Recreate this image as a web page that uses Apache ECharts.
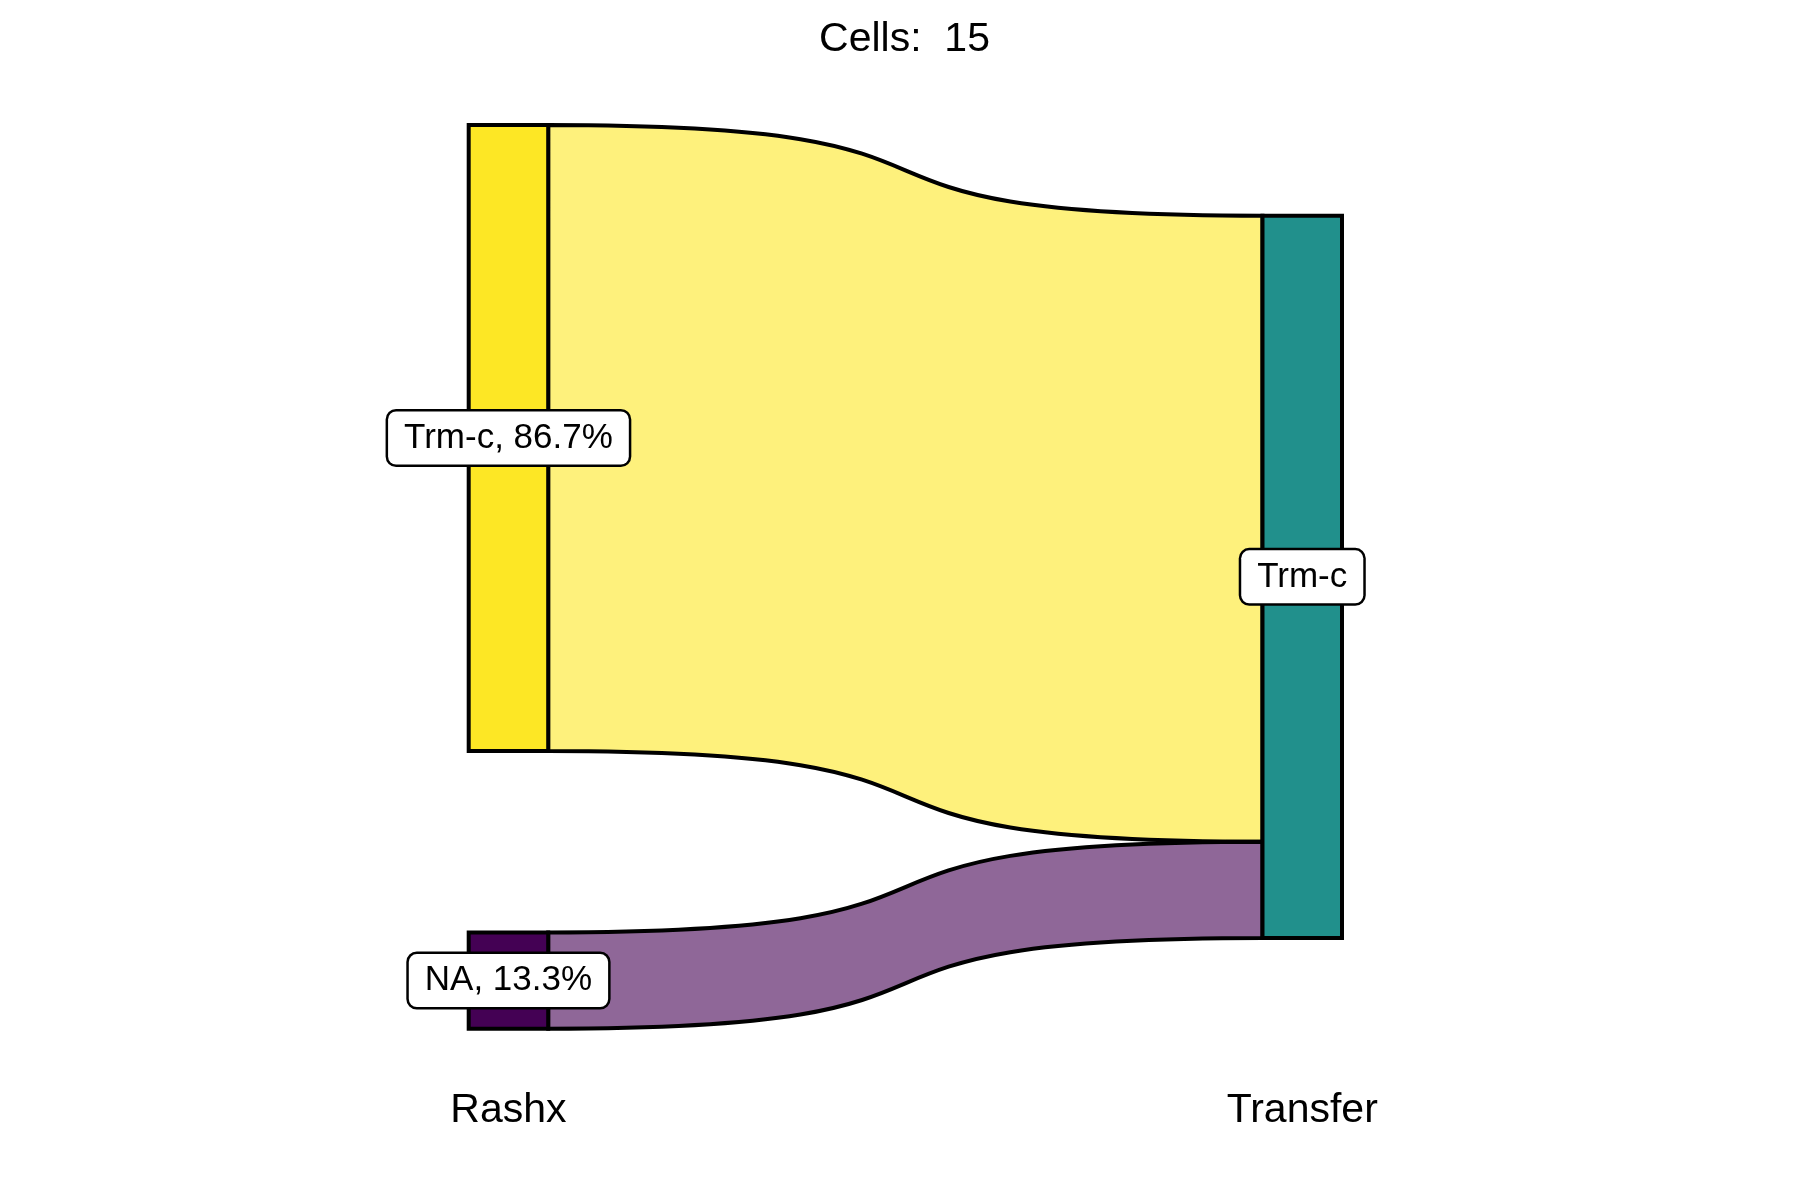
<!DOCTYPE html>
<html>
<head>
<meta charset="utf-8">
<script src="https://cdn.jsdelivr.net/npm/echarts@6/dist/echarts.min.js"></script>
<style>html,body{margin:0;padding:0;background:#fff}#c{width:1800px;height:1200px}</style>
</head>
<body>
<div id="c"></div>
<script>
// ---- data ----
const axisNames = ['Rashx', 'Transfer'];
const sourceCategories = ['Trm-c', 'NA'];
const targetCategories = ['Trm-c'];
const flowSource = ['Trm-c', 'NA'];
const flowTarget = ['Trm-c', 'Trm-c'];
const flowCounts = [13, 2];
const sourceColors = ['#FDE725', '#440154'];
const targetColors = ['#21908C'];

// ---- layout / style ----
const FONT = '"Liberation Sans", Arial, sans-serif';
const L = 468.7, T = 125, W = 873.3, H = 903.7;
const NODE_W = 79.5, GAP = 181.4;
const FLOW_ALPHA = 0.6;

function rgba(hex, a) {
  const n = parseInt(hex.slice(1), 16);
  return `rgba(${(n >> 16) & 255},${(n >> 8) & 255},${n & 255},${a})`;
}

const total = flowCounts.reduce((a, b) => a + b, 0);
const srcTotals = sourceCategories.map(c =>
  flowCounts.reduce((s, v, i) => s + (flowSource[i] === c ? v : 0), 0));

const ky = (H - GAP * (sourceCategories.length - 1)) / total;
const targetOffset = (H - total * ky) / 2 / H;

const nodes = [];
sourceCategories.forEach((c, i) => {
  nodes.push({
    name: axisNames[0] + '|' + c,
    depth: 0,
    display: c + ', ' + (srcTotals[i] / total * 100).toFixed(1) + '%',
    itemStyle: { color: sourceColors[i] }
  });
});
targetCategories.forEach((c, i) => {
  nodes.push({
    name: axisNames[1] + '|' + c,
    depth: 1,
    display: c,
    localY: targetOffset,
    itemStyle: { color: targetColors[i] }
  });
});

const links = flowCounts.map((v, i) => ({
  source: axisNames[0] + '|' + flowSource[i],
  target: axisNames[1] + '|' + flowTarget[i],
  value: v,
  lineStyle: { color: rgba(sourceColors[sourceCategories.indexOf(flowSource[i])], FLOW_ALPHA) }
}));

const chart = echarts.init(document.getElementById('c'), null, { renderer: 'canvas' });
chart.setOption({
  animation: false,
  backgroundColor: '#fff',
  graphic: [{
    type: 'text',
    x: 904.5,
    y: 40,
    style: {
      text: 'Cells:  ' + total, fill: '#000', font: '41px ' + FONT,
      textAlign: 'center', textVerticalAlign: 'middle'
    }
  }].concat(axisNames.map((n, i) => ({
    type: 'text',
    x: i === 0 ? L + NODE_W / 2 : L + W - NODE_W / 2,
    y: 1111,
    style: {
      text: n, fill: '#000', font: '41px ' + FONT,
      textAlign: 'center', textVerticalAlign: 'middle'
    }
  }))),
  series: [{
    type: 'sankey',
    left: L, top: T, width: W, height: H,
    nodeWidth: NODE_W,
    nodeGap: GAP,
    layoutIterations: 0,
    draggable: false,
    emphasis: { disabled: true },
    data: nodes,
    links: links,
    itemStyle: { borderColor: '#000', borderWidth: 4, opacity: 1 },
    lineStyle: { curveness: 0.7, borderColor: '#000', borderWidth: 4, opacity: 1 },
    label: {
      show: true,
      position: 'inside',
      formatter: p => p.data.display,
      color: '#000',
      fontSize: 35,
      fontFamily: FONT,
      backgroundColor: '#fff',
      borderColor: '#000',
      borderWidth: 2.5,
      borderRadius: 8,
      padding: [9, 16]
    }
  }]
});
</script>
</body>
</html>
